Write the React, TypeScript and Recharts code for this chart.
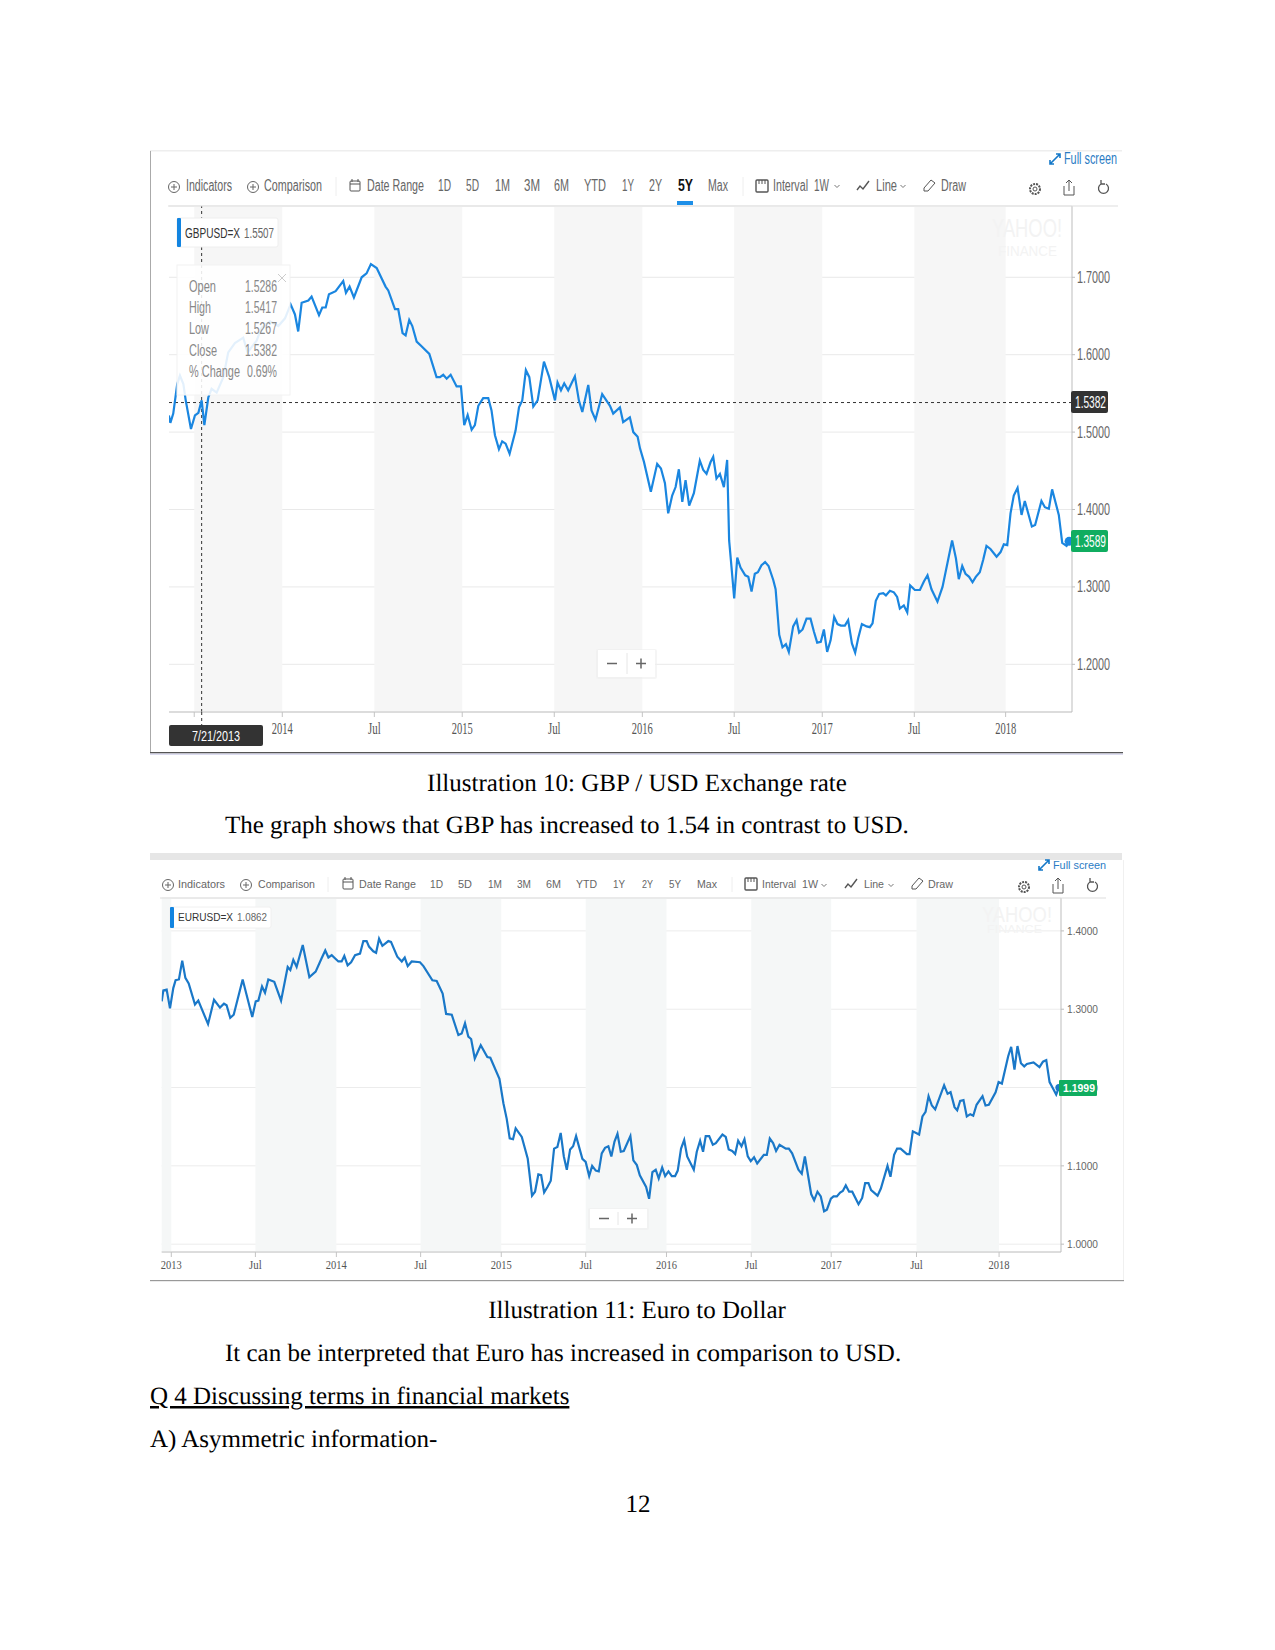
import React from 'react';
import { LineChart, Line, XAxis, YAxis, CartesianGrid, ReferenceArea, ReferenceLine, ReferenceDot } from 'recharts';

// weekly closes: [decimal year, rate]
const gbp2013 = [[2013.373,1.5215],[2013.381,1.512],[2013.397,1.524],[2013.419,1.562],[2013.434,1.573],[2013.453,1.562],[2013.466,1.541],[2013.495,1.504],[2013.517,1.5215],[2013.536,1.525],[2013.554,1.541],[2013.569,1.509],[2013.591,1.545],[2013.609,1.556],[2013.637,1.551],[2013.674,1.571],[2013.701,1.603],[2013.738,1.615],[2013.784,1.622],[2013.808,1.603],[2013.858,1.618],[2013.886,1.635],[2013.932,1.643],[2013.978,1.637]];
const gbp2014 = [[2014.015,1.647],[2014.046,1.665],[2014.07,1.652],[2014.088,1.63],[2014.107,1.667],[2014.144,1.67],[2014.162,1.675],[2014.203,1.651],[2014.221,1.661],[2014.24,1.661],[2014.258,1.678],[2014.295,1.682],[2014.337,1.695],[2014.352,1.68],[2014.372,1.688],[2014.396,1.674],[2014.439,1.7],[2014.466,1.705],[2014.49,1.717],[2014.522,1.712],[2014.571,1.688],[2014.586,1.683],[2014.623,1.659],[2014.641,1.659],[2014.665,1.628],[2014.682,1.625],[2014.702,1.645],[2014.719,1.637],[2014.743,1.617],[2014.77,1.611],[2014.813,1.601],[2014.853,1.571],[2014.872,1.571],[2014.89,1.574],[2014.909,1.569],[2014.931,1.574],[2014.964,1.559],[2014.988,1.559]];
const gbp2015 = [[2015.006,1.509],[2015.025,1.522],[2015.047,1.503],[2015.065,1.509],[2015.084,1.534],[2015.111,1.544],[2015.139,1.544],[2015.157,1.528],[2015.176,1.496],[2015.198,1.478],[2015.216,1.488],[2015.235,1.485],[2015.257,1.472],[2015.29,1.502],[2015.309,1.532],[2015.327,1.541],[2015.347,1.58],[2015.366,1.571],[2015.388,1.533],[2015.412,1.541],[2015.447,1.591],[2015.476,1.571],[2015.508,1.541],[2015.522,1.564],[2015.541,1.554],[2015.559,1.563],[2015.581,1.554],[2015.618,1.572],[2015.64,1.541],[2015.659,1.526],[2015.692,1.561],[2015.71,1.528],[2015.732,1.516],[2015.769,1.549],[2015.812,1.534],[2015.83,1.524],[2015.867,1.532],[2015.885,1.513],[2015.922,1.519],[2015.941,1.5],[2015.965,1.494],[2015.978,1.479]];
const gbp2016 = [[2016.0,1.4615],[2016.038,1.423],[2016.073,1.459],[2016.094,1.453],[2016.116,1.434],[2016.134,1.395],[2016.156,1.418],[2016.175,1.429],[2016.193,1.452],[2016.212,1.41],[2016.23,1.438],[2016.25,1.405],[2016.276,1.421],[2016.309,1.463],[2016.328,1.451],[2016.346,1.446],[2016.368,1.461],[2016.383,1.468],[2016.401,1.44],[2016.42,1.446],[2016.442,1.429],[2016.46,1.464],[2016.471,1.36],[2016.484,1.326],[2016.499,1.285],[2016.516,1.338],[2016.534,1.325],[2016.56,1.315],[2016.577,1.313],[2016.595,1.294],[2016.613,1.317],[2016.63,1.319],[2016.65,1.328],[2016.67,1.332],[2016.689,1.327],[2016.715,1.309],[2016.728,1.297],[2016.748,1.238],[2016.766,1.222],[2016.785,1.226],[2016.801,1.216],[2016.825,1.249],[2016.844,1.257],[2016.858,1.241],[2016.877,1.245],[2016.899,1.259],[2016.921,1.259],[2016.94,1.242],[2016.958,1.228],[2016.978,1.229],[2016.995,1.245]];
const gbp2017 = [[2017.013,1.216],[2017.032,1.231],[2017.052,1.261],[2017.07,1.252],[2017.089,1.25],[2017.111,1.25],[2017.129,1.257],[2017.15,1.227],[2017.168,1.215],[2017.185,1.234],[2017.205,1.252],[2017.231,1.249],[2017.249,1.248],[2017.264,1.253],[2017.282,1.282],[2017.301,1.291],[2017.323,1.292],[2017.338,1.289],[2017.36,1.295],[2017.382,1.293],[2017.4,1.287],[2017.415,1.272],[2017.437,1.276],[2017.456,1.267],[2017.472,1.302],[2017.498,1.296],[2017.526,1.296],[2017.548,1.307],[2017.568,1.315],[2017.59,1.297],[2017.623,1.281],[2017.651,1.3],[2017.682,1.335],[2017.704,1.36],[2017.725,1.337],[2017.741,1.31],[2017.76,1.327],[2017.778,1.317],[2017.798,1.313],[2017.817,1.306],[2017.835,1.313],[2017.857,1.319],[2017.876,1.335],[2017.894,1.353],[2017.916,1.349],[2017.95,1.339],[2017.972,1.345],[2017.99,1.355]];
const gbp2018 = [[2018.009,1.354],[2018.027,1.395],[2018.045,1.418],[2018.066,1.428],[2018.088,1.393],[2018.106,1.411],[2018.145,1.378],[2018.163,1.38],[2018.198,1.411],[2018.217,1.403],[2018.239,1.401],[2018.257,1.426],[2018.294,1.393],[2018.313,1.357],[2018.337,1.353],[2018.351,1.3589]];

const eur2012 = [[2012.942,1.31],[2012.952,1.324],[2012.972,1.325],[2012.992,1.301]];
const eur2013 = [[2013.012,1.327],[2013.026,1.337],[2013.046,1.338],[2013.066,1.362],[2013.085,1.34],[2013.105,1.333],[2013.143,1.306],[2013.163,1.311],[2013.222,1.281],[2013.258,1.312],[2013.294,1.302],[2013.318,1.307],[2013.334,1.305],[2013.356,1.289],[2013.377,1.293],[2013.431,1.338],[2013.489,1.29],[2013.51,1.31],[2013.526,1.311],[2013.548,1.329],[2013.566,1.321],[2013.586,1.338],[2013.622,1.335],[2013.663,1.311],[2013.703,1.354],[2013.719,1.35],[2013.737,1.363],[2013.757,1.354],[2013.794,1.382],[2013.834,1.341],[2013.872,1.348],[2013.908,1.365],[2013.93,1.375],[2013.949,1.366],[2013.969,1.369]];
const eur2014 = [[2014.009,1.361],[2014.029,1.361],[2014.045,1.368],[2014.065,1.356],[2014.086,1.36],[2014.11,1.369],[2014.14,1.371],[2014.16,1.387],[2014.18,1.387],[2014.194,1.38],[2014.22,1.374],[2014.237,1.372],[2014.255,1.39],[2014.275,1.381],[2014.311,1.387],[2014.327,1.386],[2014.365,1.367],[2014.392,1.361],[2014.41,1.366],[2014.428,1.355],[2014.452,1.361],[2014.502,1.36],[2014.523,1.355],[2014.577,1.337],[2014.603,1.336],[2014.639,1.32],[2014.66,1.294],[2014.694,1.293],[2014.734,1.267],[2014.754,1.269],[2014.774,1.282],[2014.794,1.265],[2014.811,1.262],[2014.833,1.237],[2014.869,1.254],[2014.909,1.239],[2014.927,1.238],[2014.982,1.211]];
const eur2015 = [[2015.006,1.18],[2015.026,1.16],[2015.044,1.135],[2015.064,1.134],[2015.08,1.148],[2015.117,1.137],[2015.153,1.109],[2015.179,1.062],[2015.197,1.067],[2015.217,1.089],[2015.234,1.088],[2015.252,1.066],[2015.272,1.073],[2015.292,1.081],[2015.312,1.122],[2015.332,1.124],[2015.352,1.142],[2015.371,1.112],[2015.389,1.095],[2015.409,1.121],[2015.427,1.125],[2015.445,1.138],[2015.483,1.109],[2015.503,1.105],[2015.524,1.087],[2015.542,1.1],[2015.564,1.094],[2015.582,1.093],[2015.6,1.116],[2015.62,1.123],[2015.64,1.125],[2015.658,1.112],[2015.677,1.131],[2015.695,1.141],[2015.715,1.118],[2015.733,1.119],[2015.773,1.138],[2015.791,1.107],[2015.812,1.101],[2015.83,1.088],[2015.868,1.073],[2015.886,1.058],[2015.906,1.092],[2015.926,1.095],[2015.944,1.084],[2015.965,1.098],[2015.983,1.087]];
const eur2016 = [[2016.003,1.093],[2016.023,1.087],[2016.043,1.087],[2016.059,1.094],[2016.079,1.122],[2016.098,1.133],[2016.116,1.112],[2016.156,1.095],[2016.174,1.118],[2016.194,1.132],[2016.212,1.118],[2016.228,1.138],[2016.249,1.138],[2016.271,1.127],[2016.289,1.129],[2016.329,1.14],[2016.349,1.137],[2016.367,1.121],[2016.388,1.119],[2016.406,1.115],[2016.424,1.132],[2016.444,1.125],[2016.462,1.134],[2016.482,1.112],[2016.5,1.106],[2016.52,1.111],[2016.539,1.103],[2016.579,1.114],[2016.597,1.114],[2016.615,1.135],[2016.635,1.129],[2016.653,1.119],[2016.674,1.127],[2016.712,1.122],[2016.73,1.122],[2016.75,1.116],[2016.788,1.095],[2016.808,1.09],[2016.827,1.112],[2016.865,1.064],[2016.883,1.056],[2016.903,1.067],[2016.923,1.061],[2016.943,1.042],[2016.96,1.044],[2016.984,1.058]];
const eur2017 = [[2017.0,1.061],[2017.02,1.061],[2017.04,1.066],[2017.056,1.068],[2017.074,1.075],[2017.094,1.067],[2017.113,1.067],[2017.151,1.051],[2017.173,1.059],[2017.191,1.078],[2017.211,1.078],[2017.227,1.069],[2017.266,1.062],[2017.286,1.071],[2017.326,1.1],[2017.344,1.086],[2017.366,1.114],[2017.384,1.122],[2017.405,1.122],[2017.443,1.115],[2017.459,1.115],[2017.479,1.144],[2017.517,1.14],[2017.537,1.163],[2017.556,1.169],[2017.574,1.189],[2017.594,1.177],[2017.614,1.172],[2017.668,1.203],[2017.689,1.192],[2017.707,1.194],[2017.731,1.175],[2017.747,1.171],[2017.765,1.183],[2017.785,1.184],[2017.805,1.163],[2017.826,1.166],[2017.844,1.164],[2017.864,1.178],[2017.9,1.189],[2017.918,1.177],[2017.938,1.178],[2017.979,1.194],[2017.997,1.207]];
const eur2018 = [[2018.017,1.205],[2018.055,1.24],[2018.073,1.252],[2018.093,1.223],[2018.111,1.253],[2018.132,1.231],[2018.152,1.227],[2018.168,1.23],[2018.208,1.232],[2018.244,1.226],[2018.265,1.233],[2018.285,1.235],[2018.305,1.207],[2018.325,1.199],[2018.345,1.191],[2018.361,1.1999]];

const gbpPoints = [...gbp2013, ...gbp2014, ...gbp2015, ...gbp2016, ...gbp2017, ...gbp2018];
const eurPoints = [...eur2012, ...eur2013, ...eur2014, ...eur2015, ...eur2016, ...eur2017, ...eur2018];
const gbpData = gbpPoints.map(([year, rate]) => ({ year, rate }));
const eurData = eurPoints.map(([year, rate]) => ({ year, rate }));

const gbpTicks = [2013.513, 2014, 2014.509, 2014.995, 2015.504, 2015.991, 2016.499, 2016.986, 2017.495, 2018];
// the Jul 2013 label sits under the date box in the screenshot
const gbpTickLabels = ['', '2014', 'Jul', '2015', 'Jul', '2016', 'Jul', '2017', 'Jul', '2018'];
const gbpRateTicks = [1.2, 1.3, 1.4, 1.5, 1.6, 1.7];
const gbpBands = [[2013.513, 2014], [2014.509, 2014.995], [2015.504, 2015.991], [2016.499, 2016.986], [2017.495, 2018]];

const eurTicks = [2013, 2013.508, 2013.997, 2014.506, 2014.993, 2015.503, 2015.991, 2016.503, 2016.986, 2017.501, 2018];
const eurTickLabels = ['2013', 'Jul', '2014', 'Jul', '2015', 'Jul', '2016', 'Jul', '2017', 'Jul', '2018'];
const eurRateTicks = [1.0, 1.1, 1.2, 1.3, 1.4];
const eurBands = [[2012.942, 2013], [2013.508, 2013.997], [2014.506, 2014.993], [2015.503, 2015.991], [2016.503, 2016.986], [2017.501, 2018]];

const gbpToolbar = [['Indicators', 186, 46], ['Comparison', 264, 58], ['Date Range', 367, 57], ['1D', 438, 13], ['5D', 466, 13], ['1M', 495, 15], ['3M', 524, 16], ['6M', 554, 15], ['YTD', 584, 22], ['1Y', 622, 12], ['2Y', 649, 13], ['Max', 708, 20], ['Interval', 773, 35], ['1W', 814, 15], ['Line', 876, 21], ['Draw', 941, 25]];
const eurToolbar = [['Indicators', 178, 47], ['Comparison', 258, 57], ['Date Range', 359, 57], ['1D', 430, 13], ['5D', 458, 14], ['1M', 488, 14], ['3M', 517, 14], ['6M', 546, 15], ['YTD', 576, 21], ['1Y', 613, 12], ['2Y', 642, 11], ['5Y', 669, 12], ['Max', 697, 20], ['Interval', 762, 34], ['1W', 802, 16], ['Line', 864, 20], ['Draw', 928, 25]];
const ohlcRows = [['Open', '1.5286', 286, 27], ['High', '1.5417', 307, 22], ['Low', '1.5267', 328, 20], ['Close', '1.5382', 350, 28]];

const SANS = '"Liberation Sans", Arial, sans-serif';
const SERIF = '"Liberation Serif", "Times New Roman", serif';

// squeezes a label to the width it has in the screenshot
function Txt({ x, y, w, size = 16, fill = '#666', weight = 400, family = SANS, anchor = 'start', children }: any) {
  return (
    <text x={x} y={y} fontSize={size} fill={fill} fontWeight={weight} fontFamily={family} textAnchor={anchor}
      dominantBaseline="central" textLength={w} lengthAdjust="spacingAndGlyphs">{children}</text>
  );
}

function makeXTick(labels: string[], w: number, size: number, fill: string, offset: number) {
  return function XTick({ x, y, index }: any) {
    const label = labels[index];
    if (!label) return <g />;
    return <text x={x} y={y + offset} fontSize={size} fill={fill} fontFamily={SERIF} textAnchor="middle" dominantBaseline="central"
      textLength={label === 'Jul' ? w * 0.6 : w} lengthAdjust="spacingAndGlyphs">{label}</text>;
  };
}

function makeYTick(w: number, size: number, shift: number) {
  return function YTick({ x, y, payload }: any) {
    return <text x={x + shift} y={y} fontSize={size} fill="#666" fontFamily={SANS} dominantBaseline="central"
      textLength={w} lengthAdjust="spacingAndGlyphs">{payload.value.toFixed(4)}</text>;
  };
}

function RateChart({ left, top, width, height, margin, data, xDomain, xTicks, xTick, yDomain, yTicks, yTick, yAxisW, bands, color, last, dotR, bandFill, gridFill, xAxisH, crosshair }: any) {
  return (
    <div style={{ position: 'absolute', left, top }}>
      <LineChart width={width} height={height} data={data} margin={margin}>
        <CartesianGrid vertical={false} stroke={gridFill} />
        {bands.map(([x1, x2]: number[]) => (
          <ReferenceArea key={x1} x1={x1} x2={x2} fill={bandFill} fillOpacity={1} stroke="none" />
        ))}
        <XAxis dataKey="year" type="number" domain={xDomain} ticks={xTicks} interval={0} tick={xTick} height={xAxisH} tickSize={5} stroke="#c4c4c4" allowDataOverflow />
        <YAxis orientation="right" type="number" domain={yDomain} ticks={yTicks} interval={0} tick={yTick} width={yAxisW} tickSize={3} tickMargin={2} stroke="#bdbdbd" allowDataOverflow />
        {crosshair && <ReferenceLine y={crosshair[1]} stroke="#333" strokeDasharray="3 3" />}
        {crosshair && <ReferenceLine x={crosshair[0]} stroke="#333" strokeDasharray="3 3" />}
        <Line dataKey="rate" type="linear" dot={false} stroke={color} strokeWidth={2.2} isAnimationActive={false} />
        <ReferenceDot x={last[0]} y={last[1]} r={dotR} fill={color} stroke="none" />
      </LineChart>
    </div>
  );
}

function PlusCircle({ x, y, r = 5.5 }: any) {
  return (
    <g stroke="#666" fill="none">
      <circle cx={x} cy={y} r={r} />
      <path d={`M${x - 3} ${y}H${x + 3}M${x} ${y - 3}V${y + 3}`} />
    </g>
  );
}

function ToolIcons({ cy, xs }: any) {
  const { cal, interval, line, draw, gear, share, undo } = xs;
  return (
    <g stroke="#555" fill="none" strokeWidth={1}>
      <rect x={cal - 5} y={cy - 5} width={10} height={10} rx={1} />
      <path d={`M${cal - 5} ${cy - 2}H${cal + 5}M${cal - 3} ${cy - 7}V${cy - 4}M${cal + 3} ${cy - 7}V${cy - 4}`} />
      <rect x={interval - 6} y={cy - 6} width={12} height={12} rx={1} strokeWidth={1.4} />
      <path d={`M${interval - 3} ${cy - 6}V${cy - 2}M${interval} ${cy - 6}V${cy - 2}M${interval + 3} ${cy - 6}V${cy - 2}`} />
      <path d={`M${line - 6} ${cy + 4}L${line - 3} ${cy}L${line} ${cy + 3}L${line + 3} ${cy - 1}L${line + 6} ${cy - 5}`} strokeWidth={1.4} />
      <path d={`M${draw - 5} ${cy + 2}L${draw + 2} ${cy - 6}L${draw + 6} ${cy - 3}L${draw - 1} ${cy + 5}L${draw - 5} ${cy + 5}Z`} />
      <circle cx={gear} cy={cy + 3} r={5} strokeWidth={2} strokeDasharray="2 1" />
      <circle cx={gear} cy={cy + 3} r={2} />
      <path d={`M${share - 5} ${cy}V${cy + 9}H${share + 5}V${cy}M${share} ${cy + 5}V${cy - 6}M${share - 3} ${cy - 3}L${share} ${cy - 6}L${share + 3} ${cy - 3}`} />
      <path d={`M${undo + 2} ${cy - 2}A5 5 0 1 1 ${undo - 3} ${cy - 2}M${undo - 3} ${cy - 6}V${cy - 2}H${undo + 1}`} strokeWidth={1.3} />
    </g>
  );
}

function Chevron({ x, y }: any) {
  return <path d={`M${x - 2.5} ${y - 1}L${x} ${y + 1.5}L${x + 2.5} ${y - 1}`} stroke="#777" fill="none" />;
}

function Expand({ x, y }: any) {
  return <path d={`M${x - 5} ${y + 5}L${x + 5} ${y - 5}M${x + 1} ${y - 5}H${x + 5}V${y - 1}M${x - 5} ${y + 1}V${y + 5}H${x - 1}`} stroke="#1478c8" strokeWidth={1.6} fill="none" />;
}

function ZoomBox({ x, y, w, h, minus, sep, plus }: any) {
  return (
    <g>
      <rect x={x - 2} y={y - 1} width={w + 4} height={h + 3} fill="#eee" opacity={0.6} rx={2} />
      <rect x={x} y={y} width={w} height={h} fill="#fff" />
      <path d={`M${minus - 5} ${y + h / 2}H${minus + 5}M${plus - 5} ${y + h / 2}H${plus + 5}M${plus} ${y + h / 2 - 5}V${y + h / 2 + 5}`} stroke="#666" strokeWidth={1.5} />
      <path d={`M${sep} ${y + 3}V${y + h - 3}`} stroke="#e6e6e6" />
    </g>
  );
}

function Overlay() {
  const serif = { fontFamily: SERIF, fontSize: 25, fill: '#000', textRendering: 'geometricPrecision' };
  return (
    <svg width={1275} height={1650} style={{ position: 'absolute', left: 0, top: 0 }}>
      {/* top screenshot frame and toolbar */}
      <rect x={150} y={150} width={972} height={1.5} fill="#eee" />
      <rect x={150} y={151} width={1} height={601} fill="#aaa" />
      <rect x={150} y={752} width={973} height={1.5} fill="#555" />
      <rect x={150} y={753.5} width={973} height={1.5} fill="#dcdcf0" />
      <rect x={168} y={205.5} width={950} height={1} fill="#ddd" />
      <PlusCircle x={174} y={187} />
      <PlusCircle x={253} y={187} />
      <ToolIcons cy={186} xs={{ cal: 355, interval: 762, line: 863, draw: 929, gear: 1035, share: 1069, undo: 1104 }} />
      <path d="M336 177V196M743 177V196" stroke="#eee" />
      {gbpToolbar.map(([t, x, w]: any) => <Txt key={t} x={x} y={185} w={w} size={16}>{t}</Txt>)}
      <Txt x={678} y={185} w={15} size={16} weight={700} fill="#111">5Y</Txt>
      <rect x={677} y={201} width={16} height={4} fill="#1d8fe8" />
      <Chevron x={837} y={186} />
      <Chevron x={903} y={186} />
      <Expand x={1055} y={159} />
      <Txt x={1064} y={158} w={53} size={16} fill="#2b7cc4">Full screen</Txt>

      {/* GBP floating labels */}
      <rect x={177} y={218} width={101} height={29} rx={2} fill="#fff" stroke="#eee" />
      <rect x={177} y={218} width={4} height={29} rx={1} fill="#1284e0" />
      <Txt x={185} y={232} w={55} size={15} fill="#333">GBPUSD=X</Txt>
      <Txt x={244} y={232} w={30} size={15}>1.5507</Txt>
      <rect x={177} y={265} width={113} height={130} fill="#fff" fillOpacity={0.88} stroke="#f2f2f2" />
      {ohlcRows.map(([name, value, y, w]: any) => (
        <g key={name}>
          <Txt x={189} y={y} w={w} size={16} fill="#888">{name}</Txt>
          <Txt x={245} y={y} w={32} size={16} fill="#888">{value}</Txt>
        </g>
      ))}
      <Txt x={189} y={371} w={51} size={16} fill="#888">% Change</Txt>
      <Txt x={247} y={371} w={30} size={16} fill="#888">0.69%</Txt>
      <path d="M278 274L286 282M286 274L278 282" stroke="#ccc" />
      <path d="M201.7 712V726" stroke="#333" strokeDasharray="3 3" />
      <rect x={169} y={725} width={94} height={21} rx={2} fill="#333" />
      <Txt x={192} y={735} w={48} size={15} fill="#fff">7/21/2013</Txt>
      <rect x={1071} y={391} width={37} height={22} rx={2} fill="#333" />
      <Txt x={1075} y={402} w={31} size={16} fill="#fff">1.5382</Txt>
      <rect x={1071} y={530} width={37} height={22} rx={2} fill="#10ad60" />
      <Txt x={1075} y={541} w={31} size={16} fill="#fff">1.3589</Txt>
      <ZoomBox x={598} y={650} w={57} h={27} minus={612} sep={627} plus={641} />
      <Txt x={992} y={228} w={70} size={26} fill="#f3f3f3">YAHOO!</Txt>
      <Txt x={998} y={250} w={59} size={15} fill="#f3f3f3">FINANCE</Txt>

      {/* bottom screenshot frame and toolbar */}
      <rect x={150} y={853} width={972} height={7} fill="#e6e6e6" />
      <rect x={1123} y={860} width={1} height={420} fill="#f0f0f0" />
      <rect x={150} y={1280} width={974} height={1.2} fill="#999" />
      <rect x={160} y={897.5} width={946} height={1} fill="#ddd" />
      <PlusCircle x={168} y={885} />
      <PlusCircle x={246} y={885} />
      <ToolIcons cy={884} xs={{ cal: 348, interval: 751, line: 851, draw: 917, gear: 1024, share: 1058, undo: 1093 }} />
      <path d="M328 877V892M732 877V892" stroke="#eee" />
      {eurToolbar.map(([t, x, w]: any) => <Txt key={t} x={x} y={884} w={w} size={11}>{t}</Txt>)}
      <Chevron x={824} y={885} />
      <Chevron x={891} y={885} />
      <Expand x={1044} y={865} />
      <Txt x={1053} y={865} w={53} size={11} fill="#2b7cc4">Full screen</Txt>
      <rect x={170} y={907} width={101} height={21} rx={2} fill="#fff" stroke="#f0f0f0" />
      <rect x={170} y={907} width={4} height={21} rx={1} fill="#1284e0" />
      <Txt x={178} y={917} w={55} size={10.5} fill="#333">EURUSD=X</Txt>
      <Txt x={237} y={917} w={30} size={10.5}>1.0862</Txt>
      <rect x={1059} y={1080} width={38} height={16} rx={1} fill="#10ad60" />
      <Txt x={1063} y={1088} w={32} size={11} fill="#fff" weight={700}>1.1999</Txt>
      <ZoomBox x={590} y={1209} w={57} h={19} minus={604} sep={618} plus={632} />
      <Txt x={982} y={914} w={70} size={22} fill="#f3f3f3">YAHOO!</Txt>
      <Txt x={987} y={929} w={55} size={10} fill="#f3f3f3">FINANCE</Txt>

      {/* document text around the screenshots */}
      <text x={637} y={791} textAnchor="middle" {...serif}>Illustration 10: GBP / USD Exchange rate</text>
      <text x={225} y={833} {...serif}>The graph shows that GBP has increased to 1.54 in contrast to USD.</text>
      <text x={637} y={1318} textAnchor="middle" {...serif}>Illustration 11: Euro to Dollar</text>
      <text x={225} y={1361} {...serif}>It can be interpreted that Euro has increased in comparison to USD.</text>
      <text x={150} y={1404} textDecoration="underline" {...serif}>Q 4 Discussing terms in financial markets</text>
      <text x={150} y={1447} {...serif}>A) Asymmetric information-</text>
      <text x={638} y={1512} textAnchor="middle" {...serif}>12</text>
    </svg>
  );
}

export default function App() {
  return (
    <div style={{ position: 'absolute', left: 0, top: 0, width: 1275, height: 1650, background: '#fff' }}>
      <RateChart left={150} top={150} width={982} height={600} margin={{ top: 56, right: 0, bottom: 0, left: 19 }}
        data={gbpData} xDomain={[2013.3735, 2018.367]} xTicks={gbpTicks} xTick={makeXTick(gbpTickLabels, 21, 16, '#555', 9.5)} xAxisH={38}
        yDomain={[1.1384, 1.7921]} yTicks={gbpRateTicks} yTick={makeYTick(33, 16, 0)} yAxisW={60} bands={gbpBands}
        color="#1a86e0" last={[2018.351, 1.3589]} dotR={4.5} bandFill="#f6f6f6" gridFill="#e9e9e9" crosshair={[2013.554, 1.5382]} />
      <RateChart left={150} top={860} width={961} height={420} margin={{ top: 38, right: 0, bottom: 0, left: 11.7 }}
        data={eurData} xDomain={[2012.942, 2018.374]} xTicks={eurTicks} xTick={makeXTick(eurTickLabels, 21, 12, '#555', 6)} xAxisH={28}
        yDomain={[0.99, 1.442]} yTicks={eurRateTicks} yTick={makeYTick(31, 11, 1)} yAxisW={50} bands={eurBands}
        color="#1a78c8" last={[2018.361, 1.1999]} dotR={3.5} bandFill="#f5f7f7" gridFill="#ececec" />
      <Overlay />
    </div>
  );
}
